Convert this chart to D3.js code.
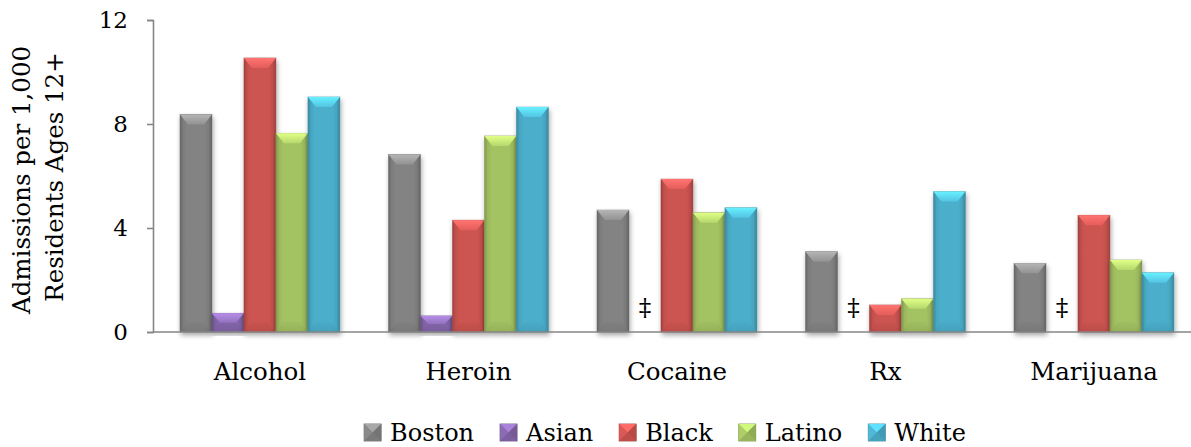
<!DOCTYPE html>
<html>
<head>
<meta charset="utf-8">
<script src="https://cdn.jsdelivr.net/npm/d3@7"></script>
<style>
  html, body { margin: 0; padding: 0; background: #fff; }
  svg { display: block; }
  text { font-family: "DejaVu Serif", "Liberation Serif", serif; fill: #000; }
</style>
</head>
<body>
<svg id="chart" width="1191" height="447"></svg>
<script>
// Treatment admissions per 1,000 residents ages 12+, by substance and group.
const categories = ["Alcohol", "Heroin", "Cocaine", "Rx", "Marijuana"];
const seriesNames = ["Boston", "Asian", "Black", "Latino", "White"];

const boston = [8.37, 6.83, 4.69, 3.09, 2.64];
const asian  = [0.72, 0.62, null, null, null];   // null = suppressed (‡)
const black  = [10.54, 4.30, 5.88, 1.04, 4.49];
const latino = [7.64, 7.54, 4.59, 1.28, 2.77];
const white  = [9.04, 8.65, 4.78, 5.40, 2.28];

const yTicks = [0, 4, 8, 12];
const suppressedMark = "\u2021";
const yTitleLines = ["Admissions per 1,000", "Residents Ages 12+"];

const seriesValues = [boston, asian, black, latino, white];
const baseColors = ["#838383", "#8466AA", "#CD5451", "#A3C262", "#4BAFCC"];

const svg = d3.select("#chart");
const W = 1191, H = 447;
const plot = { left: 153, top: 20, bottom: 332, right: 1198 };

const x = d3.scaleBand()
  .domain(categories)
  .range([155.7, 1198.2])
  .paddingInner(0.233)
  .paddingOuter(0.1165);

const xs = d3.scaleBand()
  .domain(seriesNames)
  .range([0, x.bandwidth()])
  .padding(0);

const y = d3.scaleLinear().domain([0, 12]).range([plot.bottom, plot.top]);

// ---- gradients and shadow ----
const defs = svg.append("defs");
const shadow = defs.append("filter").attr("id", "barShadow")
  .attr("x", "-30%").attr("y", "-10%").attr("width", "160%").attr("height", "130%");
shadow.append("feDropShadow")
  .attr("dx", 1).attr("dy", 3).attr("stdDeviation", 2.5)
  .attr("flood-color", "#000").attr("flood-opacity", 0.35);

baseColors.forEach((c, i) => {
  const base = d3.color(c);
  const side = defs.append("linearGradient").attr("id", "side" + i)
    .attr("x1", "0%").attr("x2", "100%").attr("y1", "0%").attr("y2", "0%");
  side.append("stop").attr("offset", "0%").attr("stop-color", base.darker(0.7));
  side.append("stop").attr("offset", "10%").attr("stop-color", base.darker(0.15));
  side.append("stop").attr("offset", "22%").attr("stop-color", base);
  side.append("stop").attr("offset", "78%").attr("stop-color", base);
  side.append("stop").attr("offset", "90%").attr("stop-color", base.darker(0.2));
  side.append("stop").attr("offset", "100%").attr("stop-color", base.darker(0.8));

  const top = defs.append("linearGradient").attr("id", "top" + i)
    .attr("x1", "0%").attr("x2", "0%").attr("y1", "0%").attr("y2", "100%");
  top.append("stop").attr("offset", "0%").attr("stop-color", base.brighter(0.9));
  top.append("stop").attr("offset", "100%").attr("stop-color", base.brighter(0.3));

  const bot = defs.append("linearGradient").attr("id", "bot" + i)
    .attr("x1", "0%").attr("x2", "0%").attr("y1", "0%").attr("y2", "100%");
  bot.append("stop").attr("offset", "0%").attr("stop-color", base.darker(0.1));
  bot.append("stop").attr("offset", "100%").attr("stop-color", base.darker(0.45));
});

// ---- bars ----
const cells = [];
categories.forEach((cat, ci) => {
  seriesNames.forEach((s, si) => {
    cells.push({ cat, series: s, si, value: seriesValues[si][ci] });
  });
});

const barLayer = svg.append("g");

function drawBar(g, d) {
  const bx = x(d.cat) + xs(d.series);
  const bw = xs.bandwidth();
  const by = y(d.value);
  const bh = y(0) - y(d.value);
  const depth = Math.min(10, bh / 2);
  const inset = Math.min(8, bw / 4);
  const gg = g.append("g").attr("filter", "url(#barShadow)");
  gg.append("rect")
    .attr("x", bx).attr("y", by).attr("width", bw).attr("height", bh)
    .attr("fill", `url(#side${d.si})`)
    .attr("stroke", d3.color(baseColors[d.si]).darker(0.6))
    .attr("stroke-opacity", 0.6).attr("stroke-width", 0.8);
  gg.append("polygon")
    .attr("points", [[bx, by], [bx + bw, by], [bx + bw - inset, by + depth], [bx + inset, by + depth]].join(" "))
    .attr("fill", `url(#top${d.si})`);
  gg.append("polygon")
    .attr("points", [[bx, by + bh], [bx + bw, by + bh], [bx + bw - inset, by + bh - depth], [bx + inset, by + bh - depth]].join(" "))
    .attr("fill", `url(#bot${d.si})`).attr("opacity", 0.55);
}

cells.filter(d => d.value != null).forEach(d => drawBar(barLayer, d));

// suppressed values
barLayer.selectAll("text.supp")
  .data(cells.filter(d => d.value == null))
  .join("text")
  .attr("class", "supp")
  .attr("x", d => x(d.cat) + xs(d.series) + xs.bandwidth() / 2)
  .attr("y", 316)
  .attr("text-anchor", "middle")
  .style("font-size", "25px")
  .text(suppressedMark);

// ---- axes ----
const axisColor = "#868686";

svg.append("line")
  .attr("x1", plot.left).attr("x2", W)
  .attr("y1", y(0)).attr("y2", y(0))
  .attr("stroke", axisColor).attr("stroke-width", 1.6);

const yAxis = svg.append("g")
  .attr("transform", `translate(${plot.left},0)`)
  .call(d3.axisLeft(y).tickValues(yTicks).tickSize(6).tickSizeOuter(6).tickPadding(19).tickFormat(d3.format("d")));
yAxis.select(".domain").attr("stroke", axisColor).attr("stroke-width", 1.6);
yAxis.selectAll(".tick line").attr("stroke", axisColor).attr("stroke-width", 1.6);
yAxis.selectAll(".tick text")
  .attr("font-family", null)
  .style("font-size", "23px").attr("fill", "#000");

const xAxis = svg.append("g")
  .attr("transform", `translate(0,${y(0)})`)
  .call(d3.axisBottom(x).tickSize(0));
xAxis.select(".domain").remove();
xAxis.selectAll(".tick text")
  .attr("font-family", null)
  .attr("y", 48).attr("dy", 0)
  .style("font-size", "24.5px").attr("fill", "#000");

// ---- y title ----
const yTitle = svg.append("g");
yTitle.append("text")
  .attr("transform", "translate(30,180) rotate(-90)")
  .attr("text-anchor", "middle")
  .style("font-size", "24.5px")
  .text(yTitleLines[0]);
yTitle.append("text")
  .attr("transform", "translate(63,177) rotate(-90)")
  .attr("text-anchor", "middle")
  .style("font-size", "24.5px")
  .text(yTitleLines[1]);

// ---- legend ----
const legend = svg.append("g");
const sw = 17, gap = 9, spacing = 26;
const items = legend.selectAll("g.item").data(seriesNames).join("g").attr("class", "item");
items.each(function (name, i) {
  const g = d3.select(this);
  const base = d3.color(baseColors[i]);
  const s = sw;
  g.append("rect").attr("width", s).attr("height", s).attr("fill", base)
    .attr("stroke", base.darker(0.8)).attr("stroke-width", 0.8);
  const c = [s / 2, s / 2];
  g.append("polygon").attr("points", [[0, 0], [s, 0], c].join(" ")).attr("fill", base.brighter(0.7));
  g.append("polygon").attr("points", [[0, 0], [0, s], c].join(" ")).attr("fill", base.brighter(0.15));
  g.append("polygon").attr("points", [[s, 0], [s, s], c].join(" ")).attr("fill", base.darker(0.35));
  g.append("polygon").attr("points", [[0, s], [s, s], c].join(" ")).attr("fill", base.darker(0.2));
  g.append("text").attr("x", s + gap).attr("y", 17)
    .style("font-size", "24px").text(name);
});
const widths = [];
items.each(function () {
  const tw = d3.select(this).select("text").node().getComputedTextLength();
  widths.push(sw + gap + tw);
});
const total = d3.sum(widths) + spacing * (widths.length - 1);
let cursor = 665 - total / 2;
items.attr("transform", (d, i) => {
  const t = `translate(${cursor},424)`;
  cursor += widths[i] + spacing;
  return t;
});
</script>
</body>
</html>
